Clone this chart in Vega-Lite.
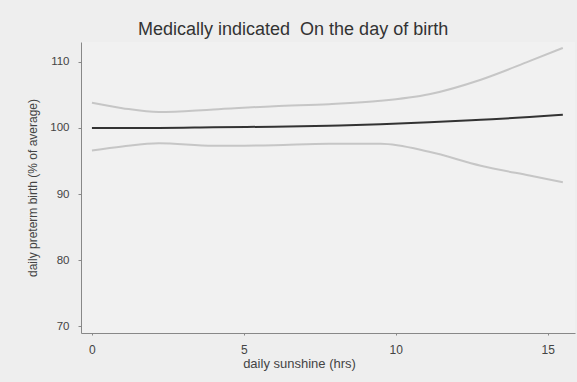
{
  "$schema": "https://vega.github.io/schema/vega-lite/v6.json",
  "width": 494,
  "height": 291,
  "autosize": {"type": "none"},
  "padding": {"left": 81, "top": 42, "right": 2, "bottom": 49},
  "background": "#eeeeee",
  "config": {
    "view": {"stroke": null, "fill": "#f1f1f1"},
    "font": "Liberation Sans"
  },
  "title": {
    "text": "Medically indicated \u00a0On the day of birth",
    "anchor": "start",
    "frame": "group",
    "dx": 57,
    "offset": 3,
    "fontSize": 18,
    "fontWeight": "normal",
    "color": "#333333",
    "font": "Liberation Sans"
  },
  "data": {
    "values": [
      {"x": 0, "est": 100, "lo": 96.6, "hi": 103.8},
      {"x": 1, "est": 100, "lo": 97.2, "hi": 103.0},
      {"x": 2.2, "est": 100, "lo": 97.7, "hi": 102.4},
      {"x": 4, "est": 100.1, "lo": 97.3, "hi": 102.8},
      {"x": 6, "est": 100.2, "lo": 97.4, "hi": 103.3},
      {"x": 7.8, "est": 100.35, "lo": 97.6, "hi": 103.6},
      {"x": 9.5, "est": 100.55, "lo": 97.6, "hi": 104.1},
      {"x": 11.1, "est": 100.85, "lo": 96.4, "hi": 105.1},
      {"x": 12.8, "est": 101.25, "lo": 94.3, "hi": 107.3},
      {"x": 14.4, "est": 101.65, "lo": 92.8, "hi": 110.1},
      {"x": 15.5, "est": 102, "lo": 91.8, "hi": 112.1}
    ]
  },
  "encoding": {
    "x": {
      "field": "x",
      "type": "quantitative",
      "scale": {"domain": [-0.36, 15.9], "nice": false, "zero": false},
      "axis": {
        "values": [0, 5, 10, 15],
        "title": "daily sunshine (hrs)",
        "titleFontSize": 13,
        "titleFontWeight": "normal",
        "titleColor": "#444444",
        "titlePadding": 2,
        "titleX": 218,
        "titleAlign": "center",
        "labelFontSize": 12,
        "labelColor": "#444444",
        "labelPadding": 9,
        "domainColor": "#888888",
        "tickColor": "#888888",
        "tickSize": 2,
        "grid": false
      }
    }
  },
  "layer": [
    {
      "mark": {"type": "line", "interpolate": "monotone", "color": "#c6c6c6", "strokeWidth": 2},
      "encoding": {
        "y": {
          "field": "hi",
          "type": "quantitative",
          "scale": {"domain": [69, 113], "nice": false, "zero": false},
          "axis": {
            "values": [70, 80, 90, 100, 110],
            "title": "daily preterm birth (% of average)",
            "titleFontSize": 12,
            "titleFontWeight": "normal",
            "titleColor": "#444444",
            "titlePadding": 10,
            "labelFontSize": 11.5,
            "labelColor": "#444444",
            "labelPadding": 9,
            "domainColor": "#888888",
            "tickColor": "#888888",
            "tickSize": 3,
            "grid": false
          }
        }
      }
    },
    {
      "mark": {"type": "line", "interpolate": "monotone", "color": "#c6c6c6", "strokeWidth": 2},
      "encoding": {"y": {"field": "lo", "type": "quantitative"}}
    },
    {
      "mark": {"type": "line", "interpolate": "monotone", "color": "#333333", "strokeWidth": 2},
      "encoding": {"y": {"field": "est", "type": "quantitative"}}
    }
  ]
}
